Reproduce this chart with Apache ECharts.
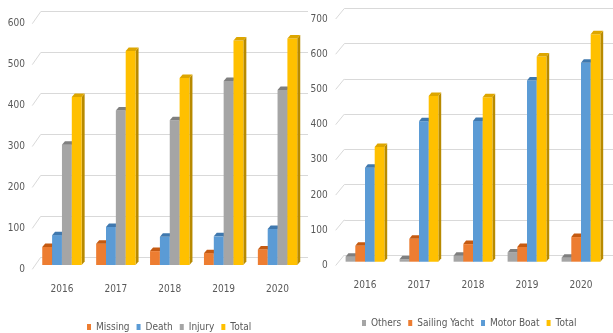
<!DOCTYPE html>
<html>
<head>
<meta charset="utf-8">
<script src="https://cdn.jsdelivr.net/npm/echarts@6/dist/echarts.min.js"></script>
<style>
html,body{margin:0;padding:0;background:#fff;}
#c{width:613px;height:333px;}
</style>
</head>
<body>
<div id="c"></div>
<script>
// ---- data ----
const years = ['2016', '2017', '2018', '2019', '2020'];

const leftNames = ['Missing', 'Death', 'Injury', 'Total'];
const missing = [44, 52, 34, 29, 38];
const death = [73, 93, 69, 70, 88];
const injury = [294, 378, 354, 450, 428];
const totalLeft = [411, 523, 457, 549, 554];
const leftTicks = [0, 100, 200, 300, 400, 500, 600];

const rightNames = ['Others', 'Sailing Yacht', 'Motor Boat', 'Total'];
const others = [14, 7, 17, 26, 11];
const sailingYacht = [45, 65, 50, 42, 70];
const motorBoat = [267, 399, 400, 515, 565];
const totalRight = [326, 471, 467, 583, 646];
const rightTicks = [0, 100, 200, 300, 400, 500, 600, 700];

// ---- styling ----
const FONT = "'DejaVu Sans Condensed','Liberation Sans Narrow',sans-serif";
const TXT = '#595959';
const GRID = '#D9D9D9';
const palettes = {
  orange: {front: '#ED7D31', top: '#C55A11', side: '#B4520F'},
  blue:   {front: '#5B9BD5', top: '#3F78AE', side: '#386C9C'},
  gray:   {front: '#A5A5A5', top: '#7F7F7F', side: '#767676'},
  yellow: {front: '#FFC000', top: '#DDA600', side: '#B88A00'}
};

function bar3D(name, values, xAxisIndex, yAxisIndex, idx, n, barW, dx, dy, pal) {
  return {
    type: 'custom',
    name: name,
    xAxisIndex: xAxisIndex,
    yAxisIndex: yAxisIndex,
    itemStyle: {color: pal.front},
    data: values.map((v, i) => [i, v]),
    renderItem: function (params, api) {
      const cat = api.value(0), v = api.value(1);
      const p = api.coord([cat, v]);
      const b = api.coord([cat, 0]);
      const x = p[0] - n * barW / 2 + idx * barW;
      const top = p[1], base = b[1];
      return {
        type: 'group',
        children: [
          {type: 'polygon', shape: {points: [[x + barW, top], [x + barW + dx, top - dy], [x + barW + dx, base - dy], [x + barW, base]]}, style: {fill: pal.side}},
          {type: 'rect', shape: {x: x, y: top, width: barW, height: base - top}, style: {fill: pal.front}},
          {type: 'polygon', shape: {points: [[x, top], [x + barW, top], [x + barW + dx, top - dy], [x + dx, top - dy]]}, style: {fill: pal.top}}
        ]
      };
    }
  };
}

// floor-edge slants of the gridlines plus the value labels at their front ends
function wallTicks(ticks, xAxisIndex, yAxisIndex, sdx, sdy, gap) {
  return {
    type: 'custom',
    silent: true,
    xAxisIndex: xAxisIndex,
    yAxisIndex: yAxisIndex,
    data: ticks.map(t => [0, t]),
    renderItem: function (params, api) {
      const v = api.value(1);
      const p = api.coord([0, v]);
      const x0 = params.coordSys.x;
      return {
        type: 'group',
        children: [
          {type: 'line', shape: {x1: x0 - sdx, y1: p[1] + sdy, x2: x0, y2: p[1]},
            style: {stroke: GRID, lineWidth: 1}},
          {type: 'text', x: x0 - sdx - gap, y: p[1] + sdy,
            style: {text: String(v), fill: TXT, fontSize: 10, fontFamily: FONT,
              align: 'right', verticalAlign: 'middle'}}
        ]
      };
    },
    z: 1
  };
}

const chart = echarts.init(document.getElementById('c'), null, {renderer: 'canvas'});

const axisText = {color: TXT, fontSize: 10, fontFamily: FONT};

const option = {
  backgroundColor: '#ffffff',
  animation: false,
  textStyle: {fontFamily: FONT},
  grid: [
    // left: back wall (gridlines)
    {left: 40.7, right: 305, top: 11.7, bottom: 75.7},
    // left: bars
    {left: 35, right: 308.5, top: 19.6, bottom: 68},
    // right: back wall
    {left: 344.3, right: 0, top: 8.5, bottom: 78},
    // right: bars
    {left: 338, right: 5, top: 15.3, bottom: 71.3}
  ],
  xAxis: [
    {gridIndex: 0, type: 'value', min: 0, max: 1, show: false},
    {gridIndex: 1, type: 'category', data: years,
      axisLine: {show: false}, axisTick: {show: false},
      axisLabel: Object.assign({margin: 19}, axisText)},
    {gridIndex: 2, type: 'value', min: 0, max: 1, show: false},
    {gridIndex: 3, type: 'category', data: years,
      axisLine: {show: false}, axisTick: {show: false},
      axisLabel: Object.assign({margin: 19}, axisText)}
  ],
  yAxis: [
    {gridIndex: 0, type: 'value', min: 0, max: 600, interval: 100,
      axisLine: {show: false}, axisTick: {show: false}, axisLabel: {show: false},
      splitLine: {lineStyle: {color: GRID, width: 1}}},
    {gridIndex: 1, type: 'value', min: 0, max: 600, interval: 100, show: false, splitLine: {show: false}},
    {gridIndex: 2, type: 'value', min: 0, max: 700, interval: 100,
      axisLine: {show: false}, axisTick: {show: false}, axisLabel: {show: false},
      splitLine: {lineStyle: {color: GRID, width: 1}}},
    {gridIndex: 3, type: 'value', min: 0, max: 700, interval: 100, show: false, splitLine: {show: false}}
  ],
  legend: [
    {data: leftNames, left: 82, top: 317, icon: 'rect', itemWidth: 4, itemHeight: 6, itemGap: 7,
      textStyle: {color: TXT, fontSize: 10, fontFamily: FONT}},
    {data: rightNames, left: 357, top: 313, icon: 'rect', itemWidth: 4, itemHeight: 6, itemGap: 7,
      textStyle: {color: TXT, fontSize: 10, fontFamily: FONT}}
  ],
  series: [
    wallTicks(leftTicks, 0, 0, 8.4, 12, 7.3),
    wallTicks(rightTicks, 2, 2, 8.6, 10.5, 8),
    bar3D(leftNames[0], missing, 1, 1, 0, 4, 9.85, 3, 3.5, palettes.orange),
    bar3D(leftNames[1], death, 1, 1, 1, 4, 9.85, 3, 3.5, palettes.blue),
    bar3D(leftNames[2], injury, 1, 1, 2, 4, 9.85, 3, 3.5, palettes.gray),
    bar3D(leftNames[3], totalLeft, 1, 1, 3, 4, 9.85, 3, 3.5, palettes.yellow),
    bar3D(rightNames[0], others, 3, 3, 0, 4, 9.7, 2.8, 3.5, palettes.gray),
    bar3D(rightNames[1], sailingYacht, 3, 3, 1, 4, 9.7, 2.8, 3.5, palettes.orange),
    bar3D(rightNames[2], motorBoat, 3, 3, 2, 4, 9.7, 2.8, 3.5, palettes.blue),
    bar3D(rightNames[3], totalRight, 3, 3, 3, 4, 9.7, 2.8, 3.5, palettes.yellow)
  ]
};
chart.setOption(option);
</script>
</body>
</html>
